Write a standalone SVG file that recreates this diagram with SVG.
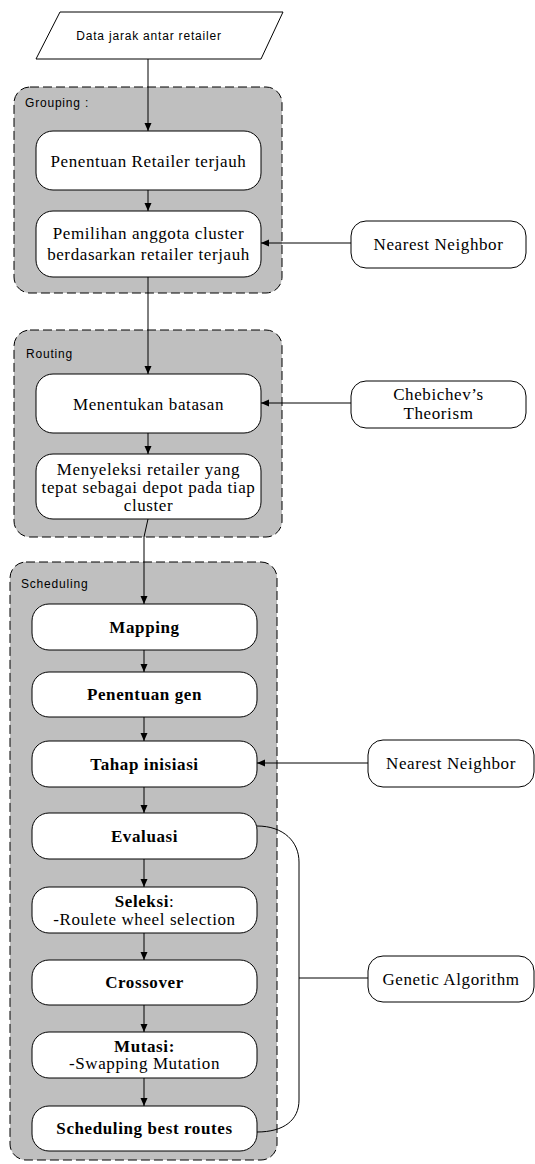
<svg xmlns="http://www.w3.org/2000/svg" width="535" height="1164" viewBox="0 0 535 1164">
<style>
.grp{fill:#bfbfbf;stroke:#000;stroke-width:1;stroke-dasharray:9 4}
.box{fill:#fff;stroke:#000;stroke-width:1}
.ser{font-family:"Liberation Serif","Times New Roman",serif;font-size:17px;letter-spacing:0.6px;text-anchor:middle;fill:#000}
.b{font-weight:bold}
.sans{font-family:"Liberation Sans",Arial,sans-serif;font-size:12px;letter-spacing:0.8px;fill:#000}
.con{fill:none;stroke:#000;stroke-width:1}
</style>
<defs>
<marker id="ah" viewBox="0 0 8 8" refX="8" refY="4" markerWidth="8" markerHeight="8" markerUnits="userSpaceOnUse" orient="auto">
<path d="M0,0.5 L8,4 L0,7.5 Z" fill="#000"/>
</marker>
</defs>
<g id="containers">
<rect id="grouping" class="grp" x="14" y="87" width="268" height="206" rx="16"/>
<text class="sans" x="25" y="107">Grouping :</text>
<rect id="routing" class="grp" x="14" y="330" width="268" height="207" rx="16"/>
<text class="sans" x="26" y="358">Routing</text>
<rect id="scheduling" class="grp" x="10" y="562" width="267" height="598" rx="16"/>
<text class="sans" x="21" y="588">Scheduling</text>
</g>
<g id="input">
<polygon class="box" points="60,12 283,12 261,59 36,59"/>
<text class="sans" x="149" y="40" text-anchor="middle">Data jarak antar retailer</text>
</g>
<g id="n1"><rect class="box" x="36" y="131" width="225" height="59" rx="17"/>
<text class="ser" x="148.5" y="167">Penentuan Retailer terjauh</text></g>
<g id="n2"><rect class="box" x="36" y="211" width="225" height="66" rx="17"/>
<text class="ser" x="148.5" y="239">Pemilihan anggota cluster</text>
<text class="ser" x="148.5" y="260">berdasarkan retailer terjauh</text></g>
<g id="n3"><rect class="box" x="36" y="374" width="225" height="59" rx="17"/>
<text class="ser" x="148.5" y="410">Menentukan batasan</text></g>
<g id="n4"><rect class="box" x="36" y="454" width="225" height="65" rx="17"/>
<text class="ser" x="148.5" y="475">Menyeleksi retailer yang</text>
<text class="ser" x="148.5" y="493">tepat sebagai depot pada tiap</text>
<text class="ser" x="148.5" y="511">cluster</text></g>
<g id="s1"><rect class="box" x="32" y="604" width="225" height="46" rx="17"/>
<text class="ser b" x="144.5" y="633">Mapping</text></g>
<g id="s2"><rect class="box" x="32" y="672" width="225" height="45" rx="17"/>
<text class="ser b" x="144.5" y="700">Penentuan gen</text></g>
<g id="s3"><rect class="box" x="32" y="741" width="225" height="46" rx="17"/>
<text class="ser b" x="144.5" y="770">Tahap inisiasi</text></g>
<g id="s4"><rect class="box" x="32" y="813" width="225" height="46" rx="17"/>
<text class="ser b" x="144.5" y="842">Evaluasi</text></g>
<g id="s5"><rect class="box" x="32" y="887" width="225" height="46" rx="17"/>
<text class="ser" x="144.5" y="907"><tspan class="b">Seleksi</tspan>:</text>
<text class="ser" x="144.5" y="925">-Roulete wheel selection</text></g>
<g id="s6"><rect class="box" x="32" y="960" width="225" height="45" rx="17"/>
<text class="ser b" x="144.5" y="988">Crossover</text></g>
<g id="s7"><rect class="box" x="32" y="1032" width="225" height="46" rx="17"/>
<text class="ser b" x="144.5" y="1052">Mutasi:</text>
<text class="ser" x="144.5" y="1069">-Swapping Mutation</text></g>
<g id="s8"><rect class="box" x="32" y="1106" width="225" height="45" rx="17"/>
<text class="ser b" x="144.5" y="1134">Scheduling best routes</text></g>
<g id="nn1"><rect class="box" x="351" y="221" width="175" height="47" rx="15"/>
<text class="ser" x="438.5" y="250">Nearest Neighbor</text></g>
<g id="cheb"><rect class="box" x="351" y="381" width="175" height="47" rx="15"/>
<text class="ser" x="438.5" y="400">Chebichev’s</text>
<text class="ser" x="438.5" y="419">Theorism</text></g>
<g id="nn2"><rect class="box" x="368" y="740" width="166" height="47" rx="15"/>
<text class="ser" x="451" y="769">Nearest Neighbor</text></g>
<g id="ga"><rect class="box" x="368" y="956" width="166" height="46" rx="15"/>
<text class="ser" x="451" y="985">Genetic Algorithm</text></g>
<g id="connectors">
<path class="con" d="M148,59 L148,131" marker-end="url(#ah)"/>
<path class="con" d="M148,190 L148,211" marker-end="url(#ah)"/>
<path class="con" d="M148,277 L148,374" marker-end="url(#ah)"/>
<path class="con" d="M148,433 L148,454" marker-end="url(#ah)"/>
<path class="con" d="M148,519 L144,537 L144,604" marker-end="url(#ah)"/>
<path class="con" d="M144,650 L144,672" marker-end="url(#ah)"/>
<path class="con" d="M144,717 L144,741" marker-end="url(#ah)"/>
<path class="con" d="M144,787 L144,813" marker-end="url(#ah)"/>
<path class="con" d="M144,859 L144,887" marker-end="url(#ah)"/>
<path class="con" d="M144,933 L144,960" marker-end="url(#ah)"/>
<path class="con" d="M144,1005 L144,1032" marker-end="url(#ah)"/>
<path class="con" d="M144,1078 L144,1106" marker-end="url(#ah)"/>
<path class="con" d="M351,243 L261,243" marker-end="url(#ah)"/>
<path class="con" d="M351,403 L261,403" marker-end="url(#ah)"/>
<path class="con" d="M368,763 L257,763" marker-end="url(#ah)"/>
<path class="con" d="M257,826 C284,826 299,842 299,862 L299,1100 C299,1120 284,1132 257,1132"/>
<path class="con" d="M368,978 L299,978"/>
</g>
</svg>
